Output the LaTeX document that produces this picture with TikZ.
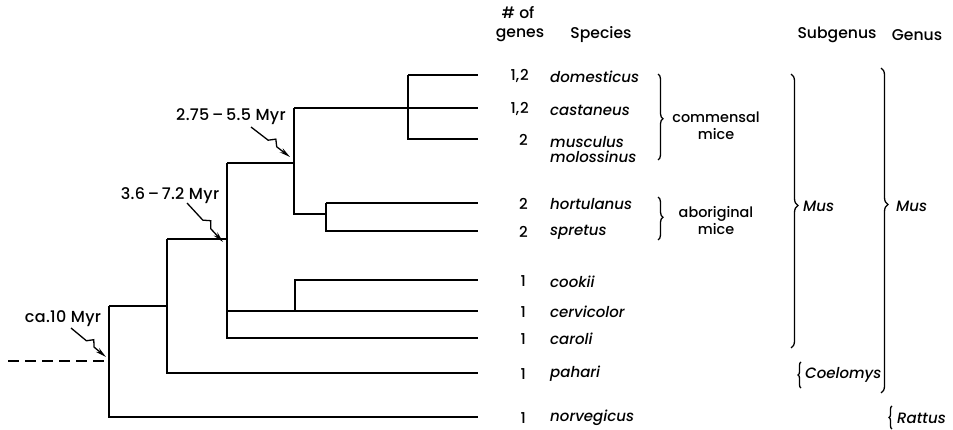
\documentclass[tikz,border=0pt]{standalone}
\usepackage{fontspec}
\setmainfont{Poppins}[UprightFont={* Medium}, ItalicFont={* Medium Italic}]
\usetikzlibrary{arrows.meta,calc,decorations.pathreplacing}

\begin{document}
\begin{tikzpicture}[x=1pt,y=-1pt,
  branch/.style={line width=1.5pt},
  lbl/.style={inner sep=0pt, font=\fontsize{15}{17}\selectfont},
  myr/.style={inner sep=0pt, font=\fontsize{16}{18}\selectfont\addfontfeature{LetterSpace=2}},
  sp/.style={lbl, anchor=west, font=\fontsize{15}{15.5}\selectfont\itshape, align=left},
  num/.style={lbl, anchor=east},
  head/.style={lbl, anchor=center, font=\fontsize{15.6}{18}\selectfont},
  grp/.style={lbl, align=center, font=\fontsize{14.4}{17}\selectfont},
  taxon/.style={lbl, anchor=west, font=\fontsize{15}{17}\selectfont\itshape},
  cbrace/.style={line width=1.3pt, decorate,
    decoration={brace, amplitude=#1}},
  zig/.style={line width=1.3pt, -{Stealth[length=11pt,width=5pt]},
    to path={-- ($(\tikztostart)!0.44!(\tikztotarget)$)
             -- ($(\tikztostart)!0.55!(\tikztotarget)!5.5pt!90:(\tikztotarget)$)
             -- ($(\tikztostart)!0.66!(\tikztotarget)$)
             -- (\tikztotarget)}}
]
\useasboundingbox (0,0) rectangle (953,430);

% leaf tips
\coordinate (t-dom) at (478,75);
\coordinate (t-cas) at (478,108);
\coordinate (t-mus) at (478,139);
\coordinate (t-hor) at (478,203);
\coordinate (t-spr) at (478,231);
\coordinate (t-coo) at (478,280);
\coordinate (t-cer) at (478,311);
\coordinate (t-car) at (478,338);
\coordinate (t-pah) at (478,373);
\coordinate (t-nor) at (478,417);

% internal nodes
\coordinate (n-com) at (408,108);
\coordinate (n-abo) at (326,214);
\coordinate (n-275) at (294,163);
\coordinate (n-coo) at (295,311);
\coordinate (n-36)  at (227,239);
\coordinate (n-pah) at (167,306);
\coordinate (n-root) at (109,361);
\coordinate (n-out) at (8,361);

% commensal clade
\draw[branch] (n-com |- t-dom) -- (t-dom);
\draw[branch] (n-com |- t-dom) -- (n-com |- t-mus) -- (t-mus);
% aboriginal clade
\draw[branch] (n-abo |- t-hor) -- (t-hor);
\draw[branch] (n-abo |- t-hor) -- (n-abo |- t-spr) -- (t-spr);
% node joining commensal and aboriginal mice
\draw[branch] (n-275 |- t-cas) -- (t-cas);
\draw[branch] (n-275 |- t-cas) -- (n-275 |- n-abo) -- (n-abo);
% cookii joins the cervicolor line
\draw[branch] (n-coo) -- (n-coo |- t-coo) -- (t-coo);
% node of 3.6-7.2 Myr
\draw[branch] (n-36 |- n-275) -- (n-275);
\draw[branch] (n-36 |- n-275) -- (n-36 |- t-car) -- (t-car);
\draw[branch] (n-36 |- t-cer) -- (t-cer);
% node with pahari
\draw[branch] (n-pah |- n-36) -- (n-36);
\draw[branch] (n-pah |- n-36) -- (n-pah |- t-pah) -- (t-pah);
% root
\draw[branch] (n-root |- n-pah) -- (n-pah);
\draw[branch] (n-root |- n-pah) -- (n-root |- t-nor) -- (t-nor);
\draw[branch, dash pattern=on 11pt off 6pt] (n-out) -- (n-root);

% divergence times
\node[myr] (l275) at (231,117) {2.75\,--\,5.5 Myr};
\node[myr] (l36)  at (170,196) {3.6\,--\,7.2 Myr};
\node[myr] (l10)  at (63,319) {ca.10 Myr};
\coordinate (a275s) at (251,127);
\coordinate (a275e) at (290,157);
\coordinate (a36s) at (187,203);
\coordinate (a36e) at (223,242);
\coordinate (a10s) at (71,328);
\coordinate (a10e) at (106,357);
\draw[zig] (a275s) to (a275e);
\draw[zig] (a36s) to (a36e);
\draw[zig] (a10s) to (a10e);

% column heads
\node[head] (h-of) at (518,13) {\# of};
\node[head] (h-genes) at (520,35) {genes};
\node[head] (h-sp) at (601,35) {Species};
\node[head] (h-sub) at (837,35) {Subgenus};
\node[head] (h-gen) at (917,35) {Genus};

% gene counts
\node[num] (g-dom) at (529,76) {1,\kern1pt2};
\node[num] (g-cas) at (529,109) {1,\kern1pt2};
\node[num] (g-mus) at (528,140) {2};
\node[num] (g-hor) at (528,204) {2};
\node[num] (g-spr) at (528,232) {2};
\node[num] (g-coo) at (526,281) {1};
\node[num] (g-cer) at (526,312) {1};
\node[num] (g-car) at (526,339) {1};
\node[num] (g-pah) at (526,374) {1};
\node[num] (g-nor) at (526,418) {1};

% species
\node[sp] (s-dom) at (550,77) {domesticus};
\node[sp] (s-cas) at (550,110) {castaneus};
\node[sp, anchor=north west] (s-mus) at (550,136) {musculus\\molossinus};
\node[sp] (s-hor) at (550,204) {hortulanus};
\node[sp] (s-spr) at (550,232) {spretus};
\node[sp] (s-coo) at (550,282) {cookii};
\node[sp] (s-cer) at (550,312) {cervicolor};
\node[sp] (s-car) at (550,339) {caroli};
\node[sp] (s-pah) at (550,374) {pahari};
\node[sp] (s-nor) at (550,418) {norvegicus};

% groups of species
\draw[cbrace=5pt, decoration={aspect=0.52}] (658,74) -- (658,160);
\node[grp] (k-com) at (716,126) {commensal\\mice};
\draw[cbrace=5pt, decoration={aspect=0.47}] (658,197) -- (658,240);
\node[grp] (k-abo) at (716,221) {aboriginal\\mice};

% subgenera
\draw[cbrace=7pt, decoration={aspect=0.48}] (791,74) -- (791,348);
\node[taxon] (sg-mus) at (803,206) {Mus};
\draw[cbrace=3pt, decoration={mirror, aspect=0.5}] (801,362) -- (801,388);
\node[taxon] (sg-coe) at (805,375) {Coelomys};

% genera
\draw[cbrace=7pt, decoration={aspect=0.42}] (881,68) -- (881,393);
\node[taxon] (ge-mus) at (896,206) {Mus};
\draw[cbrace=3pt, decoration={mirror, aspect=0.5}] (892,406) -- (892,429);
\node[taxon] (ge-rat) at (897,418) {Rattus};
\end{tikzpicture}
\end{document}
